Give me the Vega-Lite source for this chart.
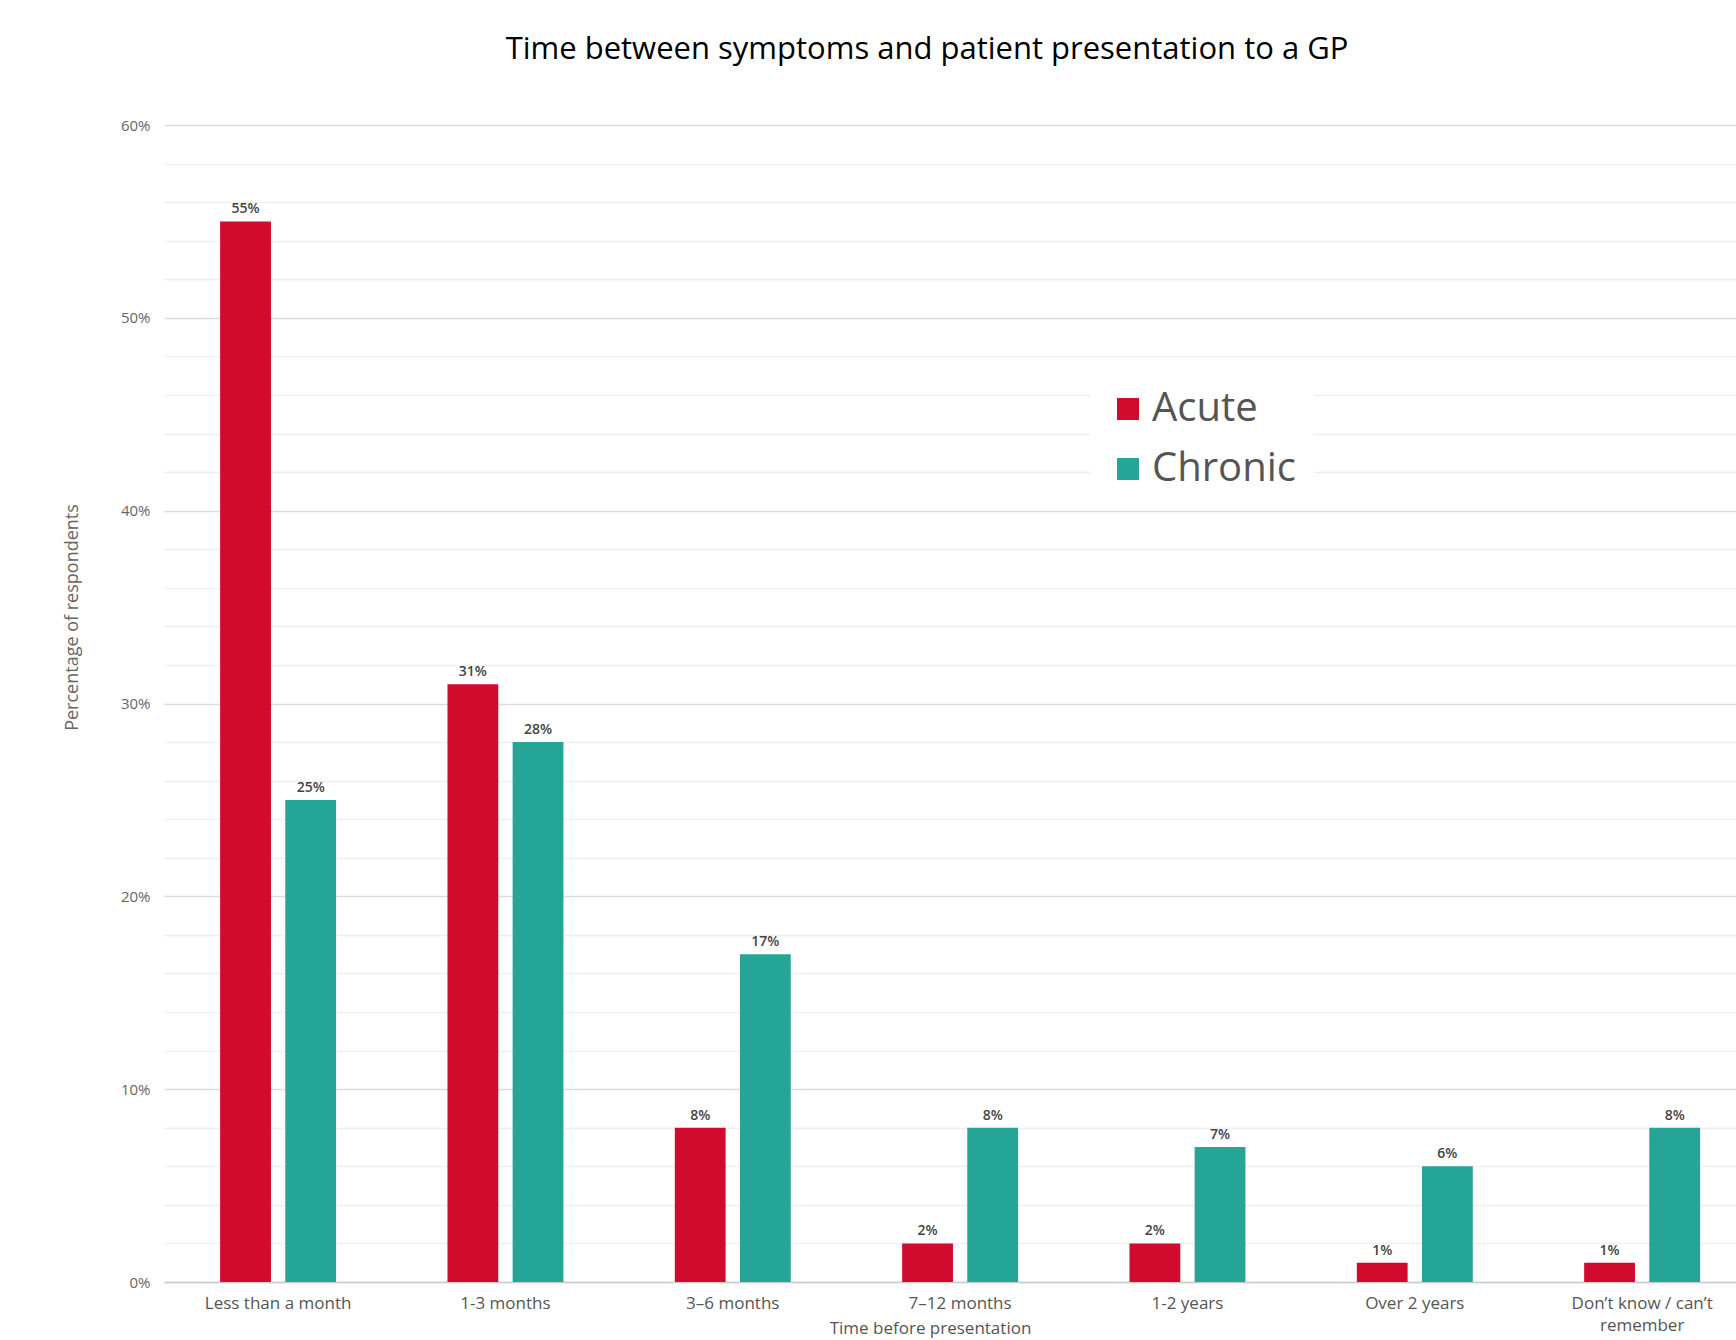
{
  "$schema": "https://vega.github.io/schema/vega-lite/v6.json",
  "width": 1572,
  "height": 1157,
  "autosize": {"type": "none"},
  "padding": {"left": 164, "top": 125, "right": 0, "bottom": 58},
  "background": "white",
  "config": {
    "font": "Open Sans",
    "view": {"stroke": null}
  },
  "title": {
    "text": "Time between symptoms and patient presentation to a GP",
    "fontSize": 31,
    "fontWeight": "normal",
    "color": "#000000",
    "anchor": "middle",
    "dx": -23,
    "offset": 52,
    "font": "Open Sans"
  },
  "data": {
    "values": [
      {"category": "Less than a month", "type": "Acute", "value": 0.55},
      {"category": "Less than a month", "type": "Chronic", "value": 0.25},
      {"category": "1-3 months", "type": "Acute", "value": 0.31},
      {"category": "1-3 months", "type": "Chronic", "value": 0.28},
      {"category": "3–6 months", "type": "Acute", "value": 0.08},
      {"category": "3–6 months", "type": "Chronic", "value": 0.17},
      {"category": "7–12 months", "type": "Acute", "value": 0.02},
      {"category": "7–12 months", "type": "Chronic", "value": 0.08},
      {"category": "1-2 years", "type": "Acute", "value": 0.02},
      {"category": "1-2 years", "type": "Chronic", "value": 0.07},
      {"category": "Over 2 years", "type": "Acute", "value": 0.01},
      {"category": "Over 2 years", "type": "Chronic", "value": 0.06},
      {"category": "Don’t know / can’t remember", "type": "Acute", "value": 0.01},
      {"category": "Don’t know / can’t remember", "type": "Chronic", "value": 0.08}
    ]
  },
  "encoding": {
    "x": {
      "field": "category",
      "type": "nominal",
      "sort": null,
      "scale": {"paddingInner": 0.49, "paddingOuter": 0.2024, "align": 0.61},
      "axis": {
        "title": "Time before presentation",
        "titleFontSize": 17,
        "titleFontWeight": "normal",
        "titleColor": "#555555",
        "titleX": 766,
        "titleY": 46,
        "titleBaseline": "middle",
        "titleAlign": "center",
        "labelAngle": 0,
        "labelFontSize": 17,
        "labelColor": "#555555",
        "labelPadding": 13,
        "labelLimit": 400,
        "labelLineHeight": 22,
        "labelExpr": "datum.label == 'Don’t know / can’t remember' ? ['Don’t know / can’t', 'remember'] : datum.label",
        "ticks": false,
        "domainColor": "#cccccc",
        "domainWidth": 1.5,
        "grid": false
      }
    },
    "xOffset": {"field": "type", "type": "nominal", "scale": {"paddingInner": 0.22}},
    "y": {
      "field": "value",
      "type": "quantitative",
      "scale": {"domain": [0, 0.6], "nice": false}
    }
  },
  "layer": [
    {
      "mark": {"type": "bar"},
      "encoding": {
        "y": {
          "field": "value",
          "type": "quantitative",
          "scale": {"domain": [0, 0.6], "nice": false},
          "axis": {
            "values": [0, 0.1, 0.2, 0.3, 0.4, 0.5, 0.6],
            "format": ".0%",
            "title": "Percentage of respondents",
            "titleFontSize": 18,
            "titleFontWeight": "normal",
            "titleColor": "#666666",
            "titleX": -92,
            "titleY": 492,
            "titleAlign": "center",
            "titleBaseline": "middle",
            "labelFontSize": 15,
            "labelColor": "#666666",
            "labelPadding": 14,
            "ticks": false,
            "domain": false,
            "grid": true,
            "gridColor": "#dcdcdc",
            "gridWidth": 1.5
          }
        },
        "color": {
          "field": "type",
          "type": "nominal",
          "scale": {"domain": ["Acute", "Chronic"], "range": ["#D00B2E", "#24A598"]},
          "legend": {
            "title": null,
            "orient": "none",
            "legendX": 926,
            "legendY": 246,
            "fillColor": "white",
            "padding": 18,
            "symbolType": "square",
            "symbolSize": 484,
            "symbolStrokeWidth": 0,
            "labelFontSize": 40,
            "labelColor": "#555555",
            "labelOffset": 4,
            "rowPadding": 20,
            "labelFont": "Open Sans"
          }
        }
      }
    },
    {
      "mark": {"type": "text", "baseline": "bottom", "dy": -5, "fontSize": 14, "color": "#444444", "fontWeight": 600},
      "encoding": {
        "y": {
          "field": "value",
          "type": "quantitative",
          "scale": {"domain": [0, 0.6], "nice": false},
          "axis": {
            "values": [0.02, 0.04, 0.06, 0.08, 0.12, 0.14, 0.16, 0.18, 0.22, 0.24, 0.26, 0.28, 0.32, 0.34, 0.36, 0.38, 0.42, 0.44, 0.46, 0.48, 0.52, 0.54, 0.56, 0.58],
            "orient": "right",
            "labels": false,
            "ticks": false,
            "domain": false,
            "title": null,
            "grid": true,
            "gridColor": "#efefef",
            "gridWidth": 1.5
          }
        },
        "text": {"field": "value", "type": "quantitative", "format": ".0%"}
      }
    }
  ],
  "resolve": {"axis": {"y": "independent"}}
}
